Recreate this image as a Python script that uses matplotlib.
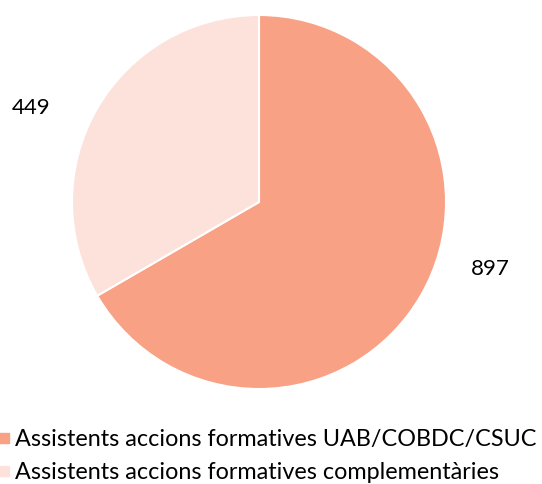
import matplotlib
matplotlib.use("Agg")
import matplotlib.pyplot as plt
from matplotlib.lines import Line2D
import numpy as np

# data
categories = ["Assistents accions formatives UAB/COBDC/CSUC",
              "Assistents accions formatives complementàries"]
values = [897, 449]
colors = ["#F8A185", "#FDE2DC"]

plt.rcParams["font.family"] = ["Lato", "DejaVu Sans"]

fig = plt.figure(figsize=(5.42, 4.84), dpi=100)
W, H = 542, 484
cx, cy, r = 259, 202, 187
ax = fig.add_axes([(cx - r) / W, (H - cy - r) / H, 2 * r / W, 2 * r / H])

wedges, _ = ax.pie(values, colors=colors, startangle=90, counterclock=False,
                   wedgeprops=dict(edgecolor="white", linewidth=1.5))
ax.set_xlim(-1, 1)
ax.set_ylim(-1, 1)
ax.set_aspect("equal")

# value labels (Excel "best fit" positions)
label_pos = [(1.235, -0.36), (-1.22, 0.50)]
for v, (lx, ly) in zip(values, label_pos):
    ax.text(lx, ly, str(v), ha="center", va="center", fontsize=16, color="black")

handles = [Line2D([], [], marker="s", linestyle="none", markersize=7.5,
                  markerfacecolor=c, markeredgecolor=c) for c in colors]
fig.legend(handles, categories, loc="upper left", bbox_to_anchor=(-0.022, 0.132),
           frameon=False, fontsize=16.8, handlelength=0.55, handletextpad=0.2,
           labelspacing=0.5, borderaxespad=0)

fig.savefig("out.png", dpi=100)
